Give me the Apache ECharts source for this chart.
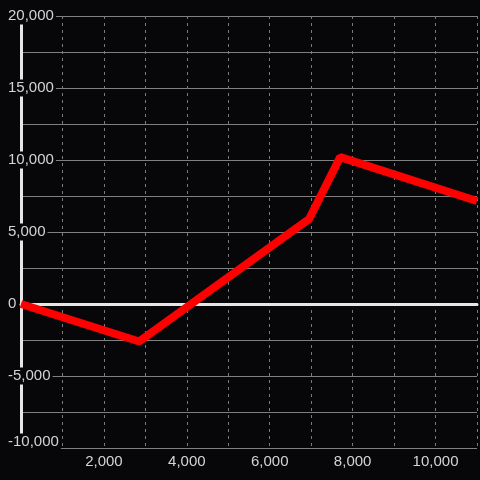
<!DOCTYPE html>
<html>
<head>
<meta charset="utf-8">
<script src="https://cdn.jsdelivr.net/npm/echarts@6/dist/echarts.min.js"></script>
<style>
  html, body { margin: 0; padding: 0; background: #07070a; }
  #chart { width: 480px; height: 480px; }
</style>
</head>
<body>
<div id="chart"></div>
<script>
// line vertices
const xValues = [0, 2850, 6950, 7700, 11000];
const yValues = [0, -2600, 5900, 10200, 7150];

// axis ranges and labelled ticks
const xRange = [0, 11000];
const yRange = [-10000, 20000];
const xLabelTicks = [2000, 4000, 6000, 8000, 10000];
const yLabelTicks = [-10000, -5000, 0, 5000, 10000, 15000, 20000];

const bg = '#07070a';
const labelColor = '#d4d4d4';
const font = 'Liberation Sans, Arial, sans-serif';

const fmt = v => String(v).replace(/\B(?=(\d{3})+(?!\d))/g, ',');

const chart = echarts.init(document.getElementById('chart'));
chart.setOption({
    animation: false,
    backgroundColor: bg,
    grid: { left: 21, right: -1, top: 16, bottom: 32 },
    xAxis: [
        {
            type: 'value',
            min: xRange[0],
            max: xRange[1],
            interval: 1000,
            position: 'bottom',
            axisLine: { show: false, onZero: false },
            axisTick: { show: false },
            splitLine: { show: true, lineStyle: { color: '#7a7a7a', width: 1, type: [3, 4] } },
            axisLabel: {
                margin: 6,
                color: labelColor,
                fontSize: 15,
                fontFamily: font,
                showMinLabel: true,
                showMaxLabel: true,
                formatter: v => xLabelTicks.includes(v) ? fmt(v) : ''
            }
        },
        {
            type: 'value',
            min: xRange[0],
            max: xRange[1],
            position: 'top',
            axisLine: { show: true, onZero: true, lineStyle: { color: '#e6e6e6', width: 3 } },
            axisTick: { show: false },
            axisLabel: { show: false },
            splitLine: { show: false }
        }
    ],
    yAxis: [
        {
            type: 'value',
            min: yRange[0],
            max: yRange[1],
            interval: 2500,
            position: 'left',
            axisLine: { show: false },
            axisTick: { show: false },
            axisLabel: { show: false },
            splitLine: { show: true, lineStyle: { color: '#808080', width: 1 } }
        },
        {
            type: 'value',
            min: yRange[0],
            max: yRange[1],
            interval: 5000,
            position: 'left',
            z: 1,
            axisLine: { show: true, onZero: false, lineStyle: { color: '#e6e6e6', width: 3 } },
            axisTick: { show: false },
            splitLine: { show: false },
            axisLabel: {
                align: 'left',
                margin: 15,
                color: labelColor,
                fontSize: 15,
                fontFamily: font,
                backgroundColor: bg,
                padding: [1, 2],
                showMinLabel: true,
                showMaxLabel: true,
                formatter: v => {
                    if (!yLabelTicks.includes(v)) return '';
                    return v === yRange[0] ? '{low|' + fmt(v) + '}' : fmt(v);
                },
                rich: {
                    low: { padding: [0, 0, 12, 0], color: labelColor, fontSize: 15, fontFamily: font }
                }
            }
        }
    ],
    series: [
        {
            type: 'line',
            xAxisIndex: 0,
            yAxisIndex: 0,
            data: xValues.map((x, i) => [x, yValues[i]]),
            showSymbol: false,
            lineStyle: { color: '#ff0000', width: 8 }
        }
    ]
});
</script>
</body>
</html>
